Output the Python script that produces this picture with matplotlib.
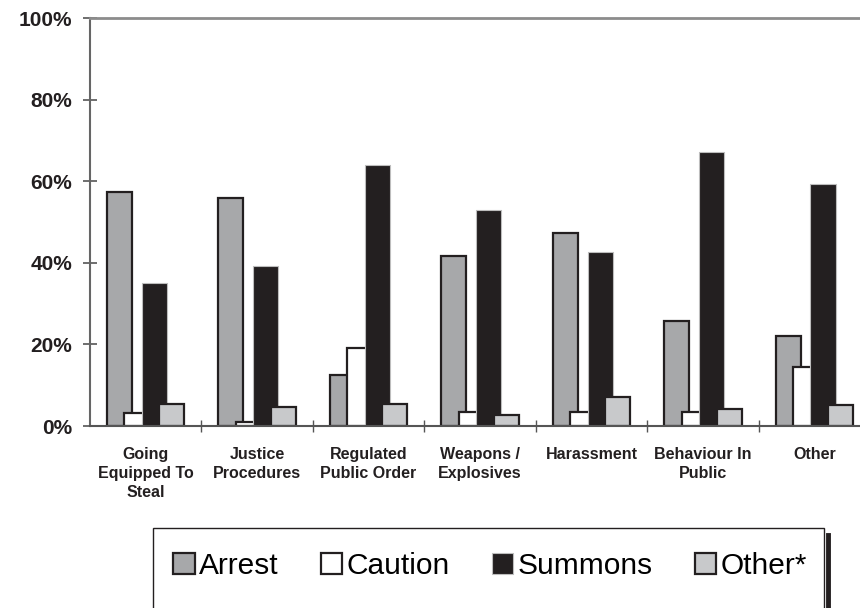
import numpy as np
import matplotlib
matplotlib.use("Agg")
import matplotlib.pyplot as plt
import matplotlib.patches as mp
from matplotlib.lines import Line2D

plt.rcParams["font.family"] = ["Liberation Sans", "DejaVu Sans"]

categories = ["Going\nEquipped To\nSteal", "Justice\nProcedures", "Regulated\nPublic Order",
              "Weapons /\nExplosives", "Harassment", "Behaviour In\nPublic", "Other"]
series = ["Arrest", "Caution", "Summons", "Other*"]
arrest = [57.4, 55.8, 12.5, 41.7, 47.2, 25.8, 22.1]
caution = [3.1, 1.0, 19.2, 3.5, 3.5, 3.5, 14.5]
summons = [35.0, 39.3, 64.0, 52.9, 42.7, 67.2, 59.2]
other = [5.3, 4.7, 5.5, 2.6, 7.2, 4.1, 5.1]
yticks = [0, 20, 40, 60, 80, 100]

fills = ["#a7a8aa", "#ffffff", "#231f20", "#c8c9cb"]
edges = ["#231f20", "#231f20", "#bdbdbd", "#231f20"]
lws = [1.6, 1.6, 0.8, 1.6]

fig = plt.figure(figsize=(8.6, 6.08), dpi=100)
ax = fig.add_axes([90/860, 1-426/608, 780/860, 408/608])

x = np.arange(len(categories)) + 0.5
w, step = 0.225, 0.157
for i, vals in enumerate([arrest, caution, summons, other]):
    ax.bar(x + (i-1.5)*step, vals, w, color=fills[i], edgecolor=edges[i],
           linewidth=lws[i], zorder=2+i, label=series[i])

ax.set_xlim(0, 7); ax.set_ylim(0, 100)
ax.set_yticks(yticks)
ax.set_yticklabels([f"{v}%" for v in yticks], fontsize=15, fontweight="bold", color="#231f20")
ax.tick_params(axis="y", direction="inout", length=10, width=1.2, color="#555555", pad=8)
ax.set_xticks(x)
ax.set_xticklabels(categories, fontsize=11.5, fontweight="bold", color="#231f20", linespacing=1.35)
ax.tick_params(axis="x", which="major", length=0, pad=15)
ax.set_xticks(np.arange(1, 7), minor=True)
ax.tick_params(axis="x", which="minor", direction="inout", length=9, width=1.0, color="#555555")
ax.spines["right"].set_visible(False)
ax.spines["top"].set_color("#8c8c8c"); ax.spines["top"].set_linewidth(2)
ax.spines["left"].set_color("#666666"); ax.spines["left"].set_linewidth(1.5)
ax.spines["bottom"].set_color("#555555"); ax.spines["bottom"].set_linewidth(1.5)
ax.spines["bottom"].set_zorder(10)

# legend box with shadow line on the right
fig.patches.append(mp.Rectangle((153/860, -0.05), (824-153)/860, 0.05+1-528/608,
                                transform=fig.transFigure, fill=False, ec="#231f20", lw=1.0))
fig.lines.append(Line2D([828/860, 828/860], [0, 1-535/608], transform=fig.transFigure,
                        color="#231f20", lw=3.5))
h, l = ax.get_legend_handles_labels()
fig.legend(h, l, loc="center", bbox_to_anchor=(490/860, 1-566/608), ncol=4, frameon=False,
           fontsize=21.5, handlelength=0.72, handleheight=0.72, handletextpad=0.15,
           columnspacing=1.4, borderpad=0)

fig.savefig("out.png", dpi=100)
